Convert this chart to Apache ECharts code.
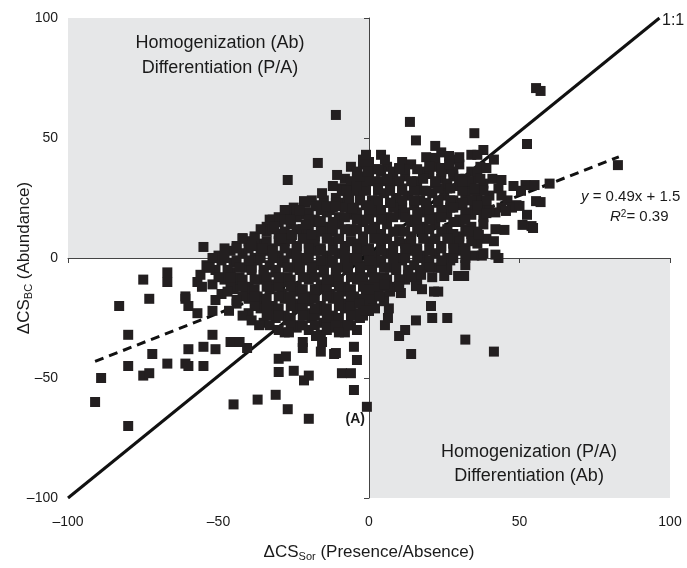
<!DOCTYPE html>
<html>
<head>
<meta charset="utf-8">
<script src="https://cdn.jsdelivr.net/npm/echarts@6/dist/echarts.min.js"></script>
<style>
  html, body { margin: 0; padding: 0; background: #fff; }
  #chart { width: 687px; height: 568px; }
</style>
</head>
<body>
<div id="chart"></div>
<script>
// axis range and ticks
const axisMin = -100;
const axisMax = 100;
const tickStep = 50;

// 1:1 reference line, ends where the printed line stops
const oneToOne = [[-100, -100], [96.5, 100]];

// fitted line y = slope * x + intercept, drawn over the range of the data
const fitSlope = 0.49;
const fitIntercept = 1.5;
const fitFrom = -91;
const fitTo = 83;

// outlying points
const lowerLeft = [
  [-91,-60],[-89,-50],[-80,-70],[-80,-32],[-83,-20],[-75,-9],[-73,-17],[-67,-6],[-67,-10],
  [-72,-40],[-80,-45],[-75,-49],[-73,-48],[-67,-44],[-61,-17],[-61,-44],[-60,-38],[-60,-45],
  [-55,-45],[-52,-32],[-55,-37],[-51,-38],[-46,-35],[-43,-35],[-40.5,-37.5],[-45,-61],[-37,-59],
  [-31,-57],[-27,-63],[-20,-67],[-30,-42],[-27.6,-41],[-30,-47.5],[-25,-47],[-21.6,-51],[-20,-49],
  [-22,-37.5],[-16,-39],[-11.6,-40],[-9,-48],[-6,-48],[-5,-37],[-4,-42.5],[-5,-55],[-0.7,-62],
  [-61,-16],[-60,-20],[-57,-23],[-52,-22],[-51,-17.5],[-47,-14],[-46.5,-22],[-44,-17.5],[-42,-24],
  [-39,-26],[-36.5,-28],[-33,-28],[-53,-4],[-57,-10],[-55.5,-12],[-30,-30],[-26.6,-31],[-22,-35],
  [-17.6,-32.5],[-14,-30],[-11,-28],[-7,-28],[-10,-31],[-15.6,-35],[-11,-39.6],[-3.3,-19],[-1,-22]
];
const lowerRight = [
  [43,0],[37.5,1],[32,0],[31.6,-7.5],[29.6,-7.5],[25,-7.5],[23,-14],[21.6,-14],[20.6,-20],[21,-25],
  [26,-25],[32,-34],[41.5,-39],[15.6,-26],[14,-40],[12,-30],[10,-32.5],[5.3,-28],[6.3,-25],[6.6,-21],
  [5,-18],[3.6,-16],[0,-22],[10.6,-14.6],[10,-11.7],[15.6,-11.7],[17.6,-13],[17.3,-7],[5,-11],[0,-13]
];
const upperRight = [
  [13.6,56.7],[15.6,49],[35,52],[52.5,47.5],[22,46.7],[38,45],[36,43],[41.5,41],[26.6,42.5],[30,42],
  [22,41.7],[5.3,41],[0,40],[10,37.5],[3.3,37],[20,38],[24,37.5],[26.6,39],[39,37.5],[37,33],[44,32.5],
  [33,32],[31,32],[52,30.4],[55,30.4],[50.5,28],[55.5,23.7],[44,26],[47.5,21],[45.5,19.6],[50,21.7],
  [52.5,18],[51,13.8],[54,13.3],[45,11.7],[39,24],[36,21.7],[39,18.7],[35,29],[55.5,70.8],[57,69.6],
  [82.7,38.7],[60,31],[57,23.3],[54.5,12.5],[42,1.4],[38,2],[41.5,7],[36.5,9.6],[33,11]
];
const upperLeft = [
  [-11,59.6],[-17,39.6],[-27,32.5],[-55,4.6],[-42,8.3],[-33,16],[-10.6,34.6],[-15.6,27],[-12,30],
  [-4,30],[-7.6,28],[-3,34],[-21.6,23.7],[-26,16],[-31.5,13],[-23,19.6],[-17.6,21.6],[-39,5],
  [-35.5,4],[-29,8.3],[-25.6,9.6],[-21,13.8],[-19,9.6],[-16.6,15.4],[-1,43],[-0.5,36],[-14,21.6],
  [-11,21.6],[-5.6,20.8],[-6.6,25]
];

// dense centre of the cloud, estimated band by band
const coreA = [
  [-2,41],[4,43],[11,40],[19,42],[24,44],[29,41],[34,43],
  [-6,38],[-2,39],[2,37],[6,38],[10,37],[14,39],[18,36],[22,38],[26,37],[30,39],[34,36],[37,38],
  [-8,33],[-4,35],[0,34],[4,32],[8,35],[12,34],[16,32],[20,35],[24,33],[28,34],[32,33],[36,35],[41,33],
  [-9,29],[-5,31],[-1,30],[3,28],[7,31],[11,29],[15,30],[18,28],[22,31],[26,29],[30,30],[34,28],[38,31],[43,29],[48,30],
  [-11,25],[-7,27],[-3,26],[1,24],[5,27],[9,25],[13,26],[17,24],[21,27],[25,26],[28,24],[32,27],[36,25],[40,26],[46,24],
  [-25,21],[-21,23],[-17,22],[-13,20],[-9,23],[-5,21],[-1,22],[3,20],[7,23],[11,21],[15,22],[19,20],[23,23],[27,21],[31,22],[35,20],[39,22],[44,21],[49,22],
  [-30,17],[-26,19],[-22,18],[-18,16],[-14,19],[-10,17],[-6,18],[-2,16],[2,19],[6,17],[10,18],[14,16],[18,19],[22,17],[26,18],[30,16],[34,18],[38,17],[42,19],
  [-34,13],[-30,15],[-26,14],[-22,12],[-18,15],[-14,13],[-10,14],[-6,12],[-2,15],[2,13],[6,14],[10,12],[14,15],[18,13],[22,14],[26,12],[30,15],[34,13],[38,14],[42,12],
  [-38,9],[-34,11],[-30,10],[-26,8],[-22,11],[-18,9],[-14,10],[-10,8],[-6,11],[-2,9],[2,10],[6,8],[10,11],[14,9],[18,10],[22,8],[26,11],[30,9],[34,10],[39,8],
  [-44,5],[-40,7],[-36,6],[-32,4],[-28,7],[-24,5],[-20,6],[-16,4],[-12,7],[-8,5],[-4,6],[0,4],[4,7],[8,5],[12,6],[16,4],[20,7],[24,5],[28,6],[32,4],[36,6],
  [-50,1],[-46,3],[-42,2],[-38,0],[-34,3],[-30,1],[-26,2],[-22,0],[-18,3],[-14,1],[-10,2],[-6,0],[-2,3],[2,1],[6,2],[10,0],[14,3],[18,1],[22,2],[26,0],[30,3],[35,1],
  [-54,-3],[-49,-1],[-45,-2],[-41,-4],[-37,-1],[-33,-3],[-29,-2],[-25,-4],[-21,-1],[-17,-3],[-13,-2],[-9,-4],[-5,-1],[-1,-3],[3,-2],[7,-4],[11,-1],[15,-3],[19,-2],[23,-4],[27,-1],[32,-3],
  [-56,-7],[-51,-5],[-46,-6],[-43,-8],[-39,-5],[-35,-7],[-31,-6],[-27,-8],[-23,-5],[-19,-7],[-15,-6],[-11,-8],[-7,-5],[-3,-7],[1,-6],[5,-8],[9,-5],[13,-7],[17,-6],[21,-8],[26,-5],
  [-52,-11],[-48,-9],[-44,-10],[-40,-12],[-36,-9],[-32,-11],[-28,-10],[-24,-12],[-20,-9],[-16,-11],[-12,-10],[-8,-12],[-4,-9],[0,-11],[4,-10],[8,-12],[12,-9],[16,-10],
  [-49,-15],[-45,-13],[-41,-14],[-37,-16],[-33,-13],[-29,-15],[-25,-14],[-21,-16],[-17,-13],[-13,-15],[-9,-14],[-5,-16],[-1,-13],[3,-15],[7,-14],
  [-44,-19],[-40,-17],[-36,-18],[-32,-20],[-28,-17],[-24,-19],[-20,-18],[-16,-20],[-12,-17],[-8,-19],[-4,-18],[1,-20],
  [-40,-23],[-36,-21],[-32,-22],[-28,-24],[-24,-21],[-20,-23],[-16,-22],[-12,-24],[-8,-21],[-4,-23],[0,-22],
  [-35,-27],[-31,-25],[-27,-26],[-23,-28],[-19,-25],[-15,-27],[-11,-26],[-7,-28],[-3,-25],
  [-28,-31],[-24,-29],[-20,-30],[-16,-32],[-12,-29],[-8,-31],[-4,-30]
];
const coreB = [
  [-4,36],[4,36],[12,37],[20,36],[28,36],
  [-6,32],[2,32],[10,32],[18,33],[26,31],[34,32],
  [-9,28],[-1,28],[7,28],[15,28],[23,29],[31,28],[38,28],
  [-19,24],[-11,23],[-3,24],[3,24],[11,24],[19,23],[27,24],[34,24],
  [-28,20],[-20,19],[-12,21],[-4,19],[0,20],[8,21],[16,19],[24,20],[32,19],[40,20],
  [-32,16],[-24,17],[-16,15],[-8,17],[0,16],[8,17],[16,15],[24,17],[32,16],
  [-36,12],[-28,11],[-20,12],[-12,11],[-4,12],[4,10],[12,11],[20,12],[28,10],[36,11],
  [-42,8],[-34,7],[-26,8],[-18,7],[-10,8],[-2,7],[6,8],[14,7],[22,8],[30,7],
  [-48,4],[-40,4],[-32,3],[-24,4],[-16,3],[-8,4],[0,3],[8,4],[16,3],[24,4],[32,4],
  [-52,0],[-44,-1],[-36,0],[-28,-1],[-20,0],[-12,-1],[-4,0],[4,-1],[12,0],[20,-1],[28,0],
  [-53,-4],[-47,-5],[-39,-4],[-31,-5],[-23,-4],[-15,-5],[-7,-4],[1,-5],[9,-4],[17,-5],[24,-4],
  [-50,-8],[-42,-9],[-34,-8],[-26,-9],[-18,-8],[-10,-9],[-2,-8],[6,-9],[14,-8],
  [-46,-12],[-38,-13],[-30,-12],[-22,-13],[-14,-12],[-6,-13],[2,-12],[10,-12],
  [-42,-16],[-34,-17],[-26,-16],[-18,-17],[-10,-16],[-2,-17],[5,-16],
  [-38,-20],[-30,-21],[-22,-20],[-14,-21],[-6,-20],[2,-21],
  [-34,-24],[-26,-25],[-18,-24],[-10,-25],[-2,-24],
  [-26,-28],[-18,-28],[-10,-29]
];
const coreC = [
  [0,37],[8,36],[16,37],[24,36],
  [-2,32],[6,33],[14,32],[22,32],[30,33],
  [-5,28],[3,29],[11,28],[19,28],[27,29],[35,28],
  [-15,24],[-7,24],[7,23],[15,24],[23,24],[31,23],
  [-24,20],[-16,20],[-8,21],[4,20],[12,19],[20,20],[28,21],[36,20],
  [-28,16],[-20,16],[-12,15],[-4,16],[4,16],[12,17],[20,16],[28,15],
  [-32,12],[-24,12],[-16,11],[-8,12],[0,12],[8,11],[16,12],[24,11],[32,12],
  [-38,8],[-30,7],[-22,8],[-14,8],[-6,7],[2,8],[10,7],[18,8],[26,8],[34,7],
  [-44,4],[-36,3],[-28,4],[-20,4],[-12,3],[-4,4],[4,3],[12,4],[20,3],[28,4],
  [-48,0],[-40,-1],[-32,0],[-24,0],[-16,-1],[-8,0],[0,-1],[8,0],[16,0],[24,-1],
  [-43,-4],[-35,-5],[-27,-4],[-19,-4],[-11,-5],[-3,-4],[5,-4],[13,-5],[20,-4],
  [-46,-8],[-38,-9],[-30,-8],[-22,-8],[-14,-9],[-6,-8],[2,-8],[10,-9],
  [-42,-12],[-34,-12],[-26,-12],[-18,-13],[-10,-12],[-2,-12],[6,-12],
  [-38,-16],[-30,-16],[-22,-17],[-14,-16],[-6,-16],[1,-17],
  [-34,-20],[-26,-20],[-18,-21],[-10,-20],[-2,-20],
  [-30,-24],[-22,-24],[-14,-25],[-6,-24],
  [-22,-28],[-14,-29],[-6,-28]
];

const FONT = '"Liberation Sans", Arial, Helvetica, sans-serif';
const INK = '#1a1a1a';
const dash = v => (v < 0 ? '\u2013' + Math.abs(v) : String(v));

const points = [].concat(coreA, coreB, coreC, lowerLeft, lowerRight, upperRight, upperLeft);
const fitLine = [fitFrom, fitTo].map(x => [x, fitSlope * x + fitIntercept]);

const chart = echarts.init(document.getElementById('chart'));

const labelAxis = {
  type: 'value', min: axisMin, max: axisMax, interval: tickStep,
  axisLine: { show: false, onZero: false },
  axisTick: { show: false },
  splitLine: { show: false },
  nameLocation: 'middle',
  nameMoveOverlap: false
};
const zeroAxis = {
  type: 'value', min: axisMin, max: axisMax, interval: tickStep, z: 1,
  axisLine: { show: true, onZero: true, onZeroAxisIndex: 0, lineStyle: { color: '#444', width: 1 } },
  axisTick: { show: true, length: 5, lineStyle: { color: '#444', width: 1 } },
  axisLabel: { show: false },
  splitLine: { show: false }
};
const nameRich = {
  a: { fontSize: 17, fontFamily: FONT, color: INK, lineHeight: 20 },
  s: { fontSize: 11, fontFamily: FONT, color: INK, verticalAlign: 'bottom', lineHeight: 12 }
};

const option = {
  animation: false,
  backgroundColor: '#fff',
  textStyle: { fontFamily: FONT, color: INK },
  grid: { left: 68, right: 17, top: 18, bottom: 70, containLabel: false, outerBoundsMode: 'none' },
  xAxis: [
    Object.assign({}, labelAxis, {
      position: 'bottom',
      axisLabel: { formatter: dash, fontSize: 14, color: INK, fontFamily: FONT, margin: 17 },
      name: '{a|\u0394CS}{s|Sor}{a| (Presence/Absence)}',
      nameGap: 44,
      nameTextStyle: { rich: nameRich }
    }),
    Object.assign({}, zeroAxis, { position: 'bottom' })
  ],
  yAxis: [
    Object.assign({}, labelAxis, {
      position: 'left',
      axisLabel: { formatter: dash, fontSize: 14, color: INK, fontFamily: FONT, margin: 10 },
      name: '{a|\u0394CS}{s|BC}{a| (Abundance)}',
      nameGap: 34,
      nameTextStyle: { rich: nameRich }
    }),
    Object.assign({}, zeroAxis, { position: 'left' })
  ],
  series: [
    {
      name: 'quadrants', type: 'line', data: [], z: 0, silent: true,
      markArea: {
        silent: true,
        itemStyle: { color: '#e6e7e8' },
        data: [
          [{ coord: [axisMin, 0] }, { coord: [0, axisMax] }],
          [{ coord: [0, axisMin] }, { coord: [axisMax, 0] }]
        ]
      }
    },
    {
      name: '1:1', type: 'line', z: 2, silent: true, showSymbol: false,
      data: oneToOne,
      lineStyle: { color: '#111', width: 3 }
    },
    {
      name: 'fit', type: 'line', z: 2, silent: true, showSymbol: false,
      data: fitLine,
      lineStyle: { color: '#111', width: 3, type: [9, 6] }
    },
    {
      name: 'sites', type: 'scatter', z: 3, symbol: 'rect', symbolSize: 10,
      data: points,
      itemStyle: { color: '#231f20', opacity: 1 }
    }
  ],
  graphic: [
    {
      type: 'text', x: 220, y: 56, z: 10,
      style: {
        text: 'Homogenization (Ab)\nDifferentiation (P/A)',
        textAlign: 'center', textVerticalAlign: 'middle', align: 'center', verticalAlign: 'middle',
        fontSize: 18, fontFamily: FONT, fill: INK, lineHeight: 25
      }
    },
    {
      type: 'text', x: 529, y: 464, z: 10,
      style: {
        text: 'Homogenization (P/A)\nDifferentiation (Ab)',
        textAlign: 'center', textVerticalAlign: 'middle', align: 'center', verticalAlign: 'middle',
        fontSize: 18, fontFamily: FONT, fill: INK, lineHeight: 24
      }
    },
    {
      type: 'text', x: 662, y: 21, z: 10,
      style: {
        text: '1:1', textVerticalAlign: 'middle', verticalAlign: 'middle',
        fontSize: 16, fontFamily: FONT, fill: INK
      }
    },
    {
      type: 'text', x: 581, y: 197, z: 10,
      style: {
        text: '{i|y} = 0.49x + 1.5', textVerticalAlign: 'middle', verticalAlign: 'middle',
        fontSize: 15, fontFamily: FONT, fill: INK,
        rich: { i: { fontSize: 15, fontFamily: FONT, fontStyle: 'italic', fill: INK, color: INK } }
      }
    },
    {
      type: 'text', x: 610, y: 217, z: 10,
      style: {
        text: '{i|R}{p|2}= 0.39', textVerticalAlign: 'middle', verticalAlign: 'middle',
        fontSize: 15, fontFamily: FONT, fill: INK,
        rich: {
          i: { fontSize: 15, fontFamily: FONT, fontStyle: 'italic', fill: INK, color: INK },
          p: { fontSize: 10, fontFamily: FONT, fill: INK, color: INK, verticalAlign: 'top', lineHeight: 10 }
        }
      }
    },
    {
      type: 'text', x: 365, y: 419, z: 10,
      style: {
        text: '(A)', textAlign: 'right', textVerticalAlign: 'middle', align: 'right', verticalAlign: 'middle',
        fontSize: 14, fontWeight: 'bold', fontFamily: FONT, fill: INK
      }
    }
  ]
};

chart.setOption(option);
</script>
</body>
</html>
